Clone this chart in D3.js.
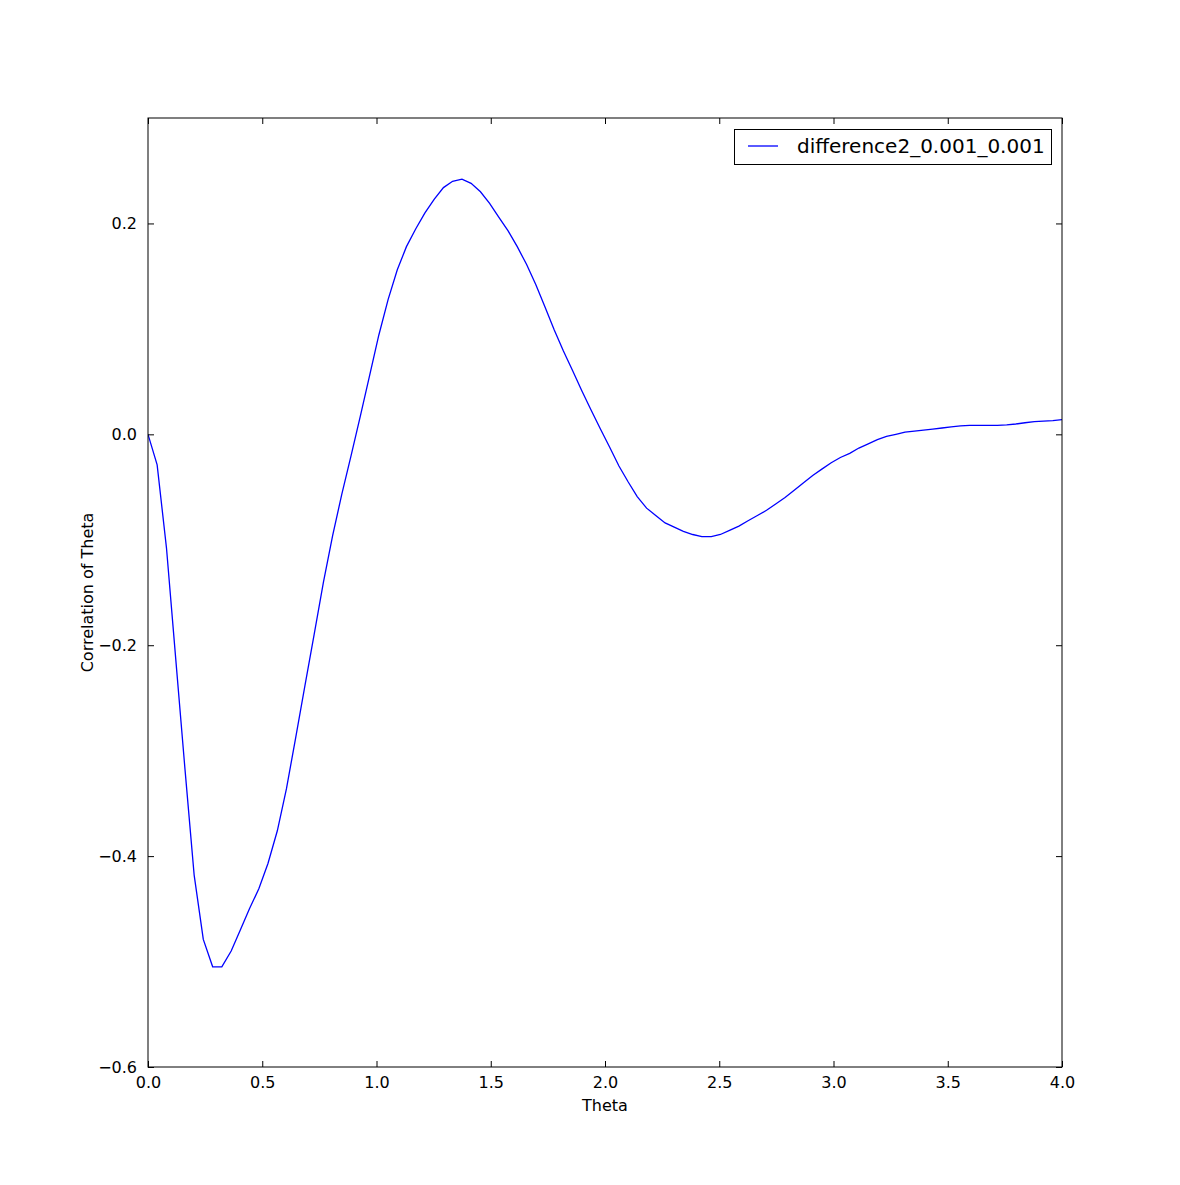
<!DOCTYPE html>
<html>
<head>
<meta charset="utf-8">
<script src="https://cdn.jsdelivr.net/npm/d3@7"></script>
<style>
  html, body { margin: 0; padding: 0; background: #fff; }
  svg { display: block; }
  text { font-family: "DejaVu Sans", sans-serif; fill: #000; }
</style>
</head>
<body>
<script>
// ---- data ----
const theta = [0.000, 0.040, 0.081, 0.121, 0.162, 0.202, 0.242, 0.283, 0.323, 0.364,
  0.404, 0.444, 0.485, 0.525, 0.566, 0.606, 0.646, 0.687, 0.727, 0.768,
  0.808, 0.848, 0.889, 0.929, 0.970, 1.010, 1.051, 1.091, 1.131, 1.172,
  1.212, 1.253, 1.293, 1.333, 1.374, 1.414, 1.455, 1.495, 1.535, 1.576,
  1.616, 1.657, 1.697, 1.737, 1.778, 1.818, 1.859, 1.899, 1.939, 1.980,
  2.020, 2.061, 2.101, 2.141, 2.182, 2.222, 2.263, 2.303, 2.343, 2.384,
  2.424, 2.465, 2.505, 2.545, 2.586, 2.626, 2.667, 2.707, 2.747, 2.788,
  2.828, 2.869, 2.909, 2.949, 2.990, 3.030, 3.071, 3.111, 3.152, 3.192,
  3.232, 3.273, 3.313, 3.354, 3.394, 3.434, 3.475, 3.515, 3.556, 3.596,
  3.636, 3.677, 3.717, 3.758, 3.798, 3.838, 3.879, 3.919, 3.960, 4.000];
const correlation = [0.000, -0.029, -0.108, -0.212, -0.318, -0.418, -0.479, -0.505, -0.505, -0.490,
  -0.470, -0.450, -0.431, -0.407, -0.376, -0.336, -0.288, -0.238, -0.190, -0.140,
  -0.096, -0.057, -0.020, 0.017, 0.056, 0.094, 0.128, 0.156, 0.178, 0.195,
  0.210, 0.223, 0.234, 0.240, 0.242, 0.238, 0.230, 0.219, 0.206, 0.193,
  0.178, 0.161, 0.142, 0.121, 0.099, 0.079, 0.060, 0.041, 0.023, 0.005,
  -0.012, -0.030, -0.045, -0.059, -0.070, -0.077, -0.084, -0.088, -0.092, -0.095,
  -0.097, -0.097, -0.095, -0.091, -0.087, -0.082, -0.077, -0.072, -0.066, -0.060,
  -0.053, -0.046, -0.039, -0.033, -0.027, -0.022, -0.018, -0.013, -0.009, -0.005,
  -0.002, 0.000, 0.002, 0.003, 0.004, 0.005, 0.006, 0.007, 0.008, 0.0085,
  0.0085, 0.0085, 0.0085, 0.009, 0.0098, 0.011, 0.012, 0.0125, 0.013, 0.014];
const xTicks = [0.0, 0.5, 1.0, 1.5, 2.0, 2.5, 3.0, 3.5, 4.0];
const yTicks = [-0.6, -0.4, -0.2, 0.0, 0.2];
const seriesName = "difference2_0.001_0.001";
const xLabel = "Theta";
const yLabel = "Correlation of Theta";

// ---- layout ----
const W = 1180, H = 1185;
const L = 148, R = 1062, T = 118, B = 1067;
const tickLen = 6;

const svg = d3.select("body").append("svg").attr("width", W).attr("height", H);

const x = d3.scaleLinear().domain([0, 4]).range([L, R]);
const y = d3.scaleLinear().domain([-0.6, 0.3]).range([B, T]);

const fmt = d => (d < 0 ? "\u2212" : "") + Math.abs(d).toFixed(1);

// clip
svg.append("clipPath").attr("id", "clip").append("rect")
  .attr("x", L).attr("y", T).attr("width", R - L).attr("height", B - T);

// line
const pts = theta.map((t, i) => [t, correlation[i]]);
svg.append("path")
  .datum(pts)
  .attr("clip-path", "url(#clip)")
  .attr("fill", "none")
  .attr("stroke", "#0000ff")
  .attr("stroke-width", 1.3)
  .attr("d", d3.line().x(d => x(d[0])).y(d => y(d[1])));

// axes (ticks inward on all sides)
const axB = svg.append("g").attr("transform", `translate(0,${B})`)
  .call(d3.axisBottom(x).tickValues(xTicks).tickFormat(fmt).tickSizeInner(-tickLen).tickSizeOuter(0).tickPadding(10));
const axT = svg.append("g").attr("transform", `translate(0,${T})`)
  .call(d3.axisTop(x).tickValues(xTicks).tickFormat("").tickSizeInner(-tickLen).tickSizeOuter(0));
const axL = svg.append("g").attr("transform", `translate(${L},0)`)
  .call(d3.axisLeft(y).tickValues(yTicks).tickFormat(fmt).tickSizeInner(-tickLen).tickSizeOuter(0).tickPadding(11));
const axR = svg.append("g").attr("transform", `translate(${R},0)`)
  .call(d3.axisRight(y).tickValues(yTicks).tickFormat("").tickSizeInner(-tickLen).tickSizeOuter(0));

[axB, axT, axL, axR].forEach(g => {
  g.select(".domain").remove();
  g.selectAll("line").attr("stroke", "#000").attr("stroke-width", 1);
  g.selectAll("text").style("font-family", "'DejaVu Sans', sans-serif").style("font-size", "16px").attr("fill", "#000");
});

// frame
svg.append("rect").attr("x", L).attr("y", T).attr("width", R - L).attr("height", B - T)
  .attr("fill", "none").attr("stroke", "#000").attr("stroke-width", 1);

// axis labels
svg.append("text").attr("x", (L + R) / 2).attr("y", 1111).attr("text-anchor", "middle")
  .style("font-size", "16px").text(xLabel);
svg.append("text").attr("transform", `translate(93,${(T + B) / 2}) rotate(-90)`)
  .attr("text-anchor", "middle").style("font-size", "16px").text(yLabel);

// legend
const lg = svg.append("g");
lg.append("rect").attr("x", 734.5).attr("y", 129.5).attr("width", 317).attr("height", 35)
  .attr("fill", "#fff").attr("stroke", "#000").attr("stroke-width", 1);
lg.append("line").attr("x1", 748).attr("x2", 778).attr("y1", 146).attr("y2", 146)
  .attr("stroke", "#0000ff").attr("stroke-width", 1.3);
lg.append("text").attr("x", 797).attr("y", 153).style("font-size", "20px").text(seriesName);
</script>
</body>
</html>
